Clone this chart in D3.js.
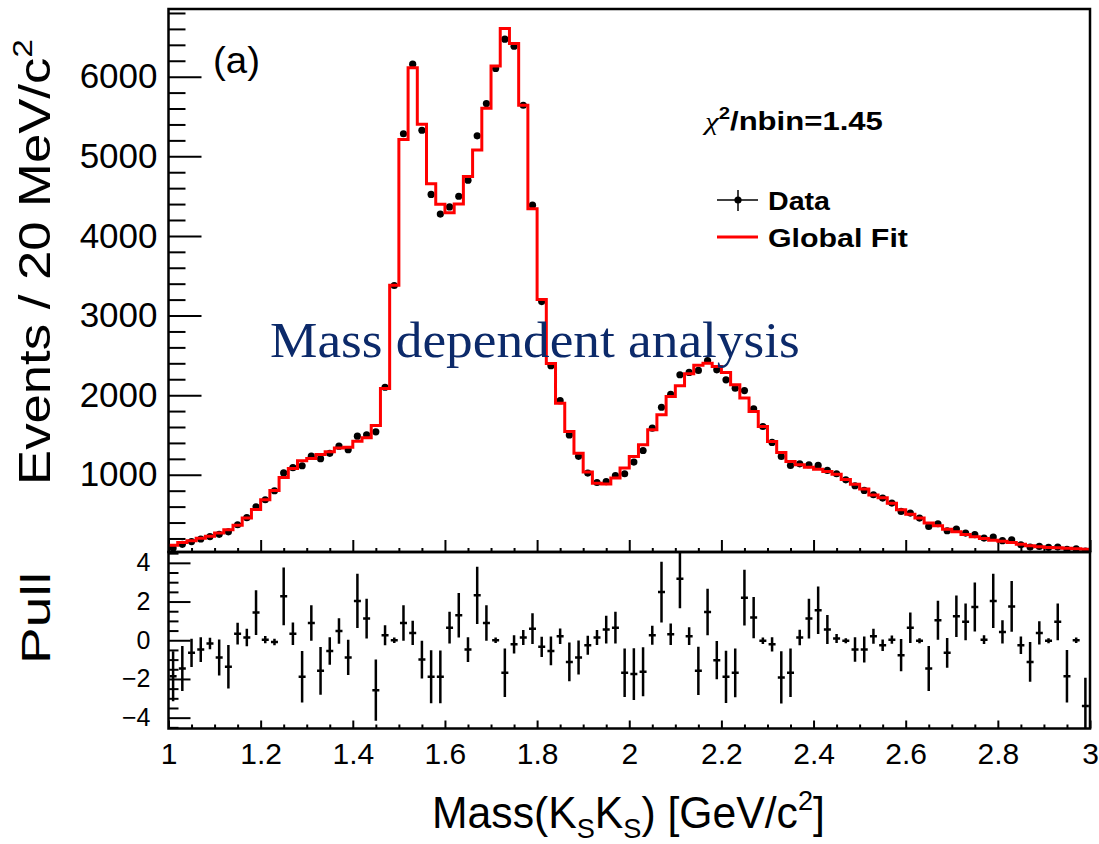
<!DOCTYPE html>
<html lang="en">
<head>
  <meta charset="utf-8">
  <title>Mass(KsKs) - mass dependent analysis</title>
  <script type="text/javascript" src="https://cdn.jsdelivr.net/npm/d3@7"></script>
</head>
<style>
body {
  margin: 0;
  background: #fff;
  font-family: "Liberation Sans", Arial, sans-serif;
}
.domain { display: none; }
</style>
<body>
<script type="text/javascript">
// bin centres, 20 MeV bins from 1 to 3 GeV
var massBins = [1.01,1.03,1.05,1.07,1.09,1.11,1.13,1.15,1.17,1.19,
  1.21,1.23,1.25,1.27,1.29,1.31,1.33,1.35,1.37,1.39,
  1.41,1.43,1.45,1.47,1.49,1.51,1.53,1.55,1.57,1.59,
  1.61,1.63,1.65,1.67,1.69,1.71,1.73,1.75,1.77,1.79,
  1.81,1.83,1.85,1.87,1.89,1.91,1.93,1.95,1.97,1.99,
  2.01,2.03,2.05,2.07,2.09,2.11,2.13,2.15,2.17,2.19,
  2.21,2.23,2.25,2.27,2.29,2.31,2.33,2.35,2.37,2.39,
  2.41,2.43,2.45,2.47,2.49,2.51,2.53,2.55,2.57,2.59,
  2.61,2.63,2.65,2.67,2.69,2.71,2.73,2.75,2.77,2.79,
  2.81,2.83,2.85,2.87,2.89,2.91,2.93,2.95,2.97,2.99];

var dataCounts = [80,126,161,193,224,252,283,372,461,598,
  686,799,1023,1089,1113,1234,1202,1269,1359,1314,
  1485,1502,1540,2099,3377,5283,6157,5327,4521,4274,
  4364,4498,4699,5257,5663,6103,6471,6382,5641,4386,
  3175,2369,1930,1500,1232,1021,903,915,991,1013,
  1159,1305,1585,1848,2011,2256,2285,2310,2435,2318,
  2193,2088,2058,1829,1606,1406,1230,1117,1138,1126,
  1117,1055,1013,937,862,803,749,707,644,539,
  519,456,351,385,297,318,268,247,205,218,
  172,184,121,92,100,87,92,62,70,42];

var fitCounts = [115,150,172,202,227,268,310,365,458,565,
  685,802,965,1080,1175,1205,1255,1288,1335,1345,
  1420,1465,1620,2085,3380,5212,6112,5404,4655,4399,
  4290,4400,4746,5080,5605,6135,6605,6417,5640,4341,
  3200,2399,1897,1545,1270,1035,895,885,958,1084,
  1230,1377,1565,1753,1984,2117,2270,2375,2400,2360,
  2285,2130,1963,1795,1605,1418,1280,1167,1126,1095,
  1070,1040,1008,940,880,820,745,712,642,560,
  505,458,395,360,315,285,250,220,198,178,
  165,148,126,110,97,88,82,76,70,65];

var pulls = [-1.86,-1.46,-0.65,-0.48,-0.17,-0.89,-1.37,0.34,0.14,1.43,
  0.03,-0.09,2.27,0.34,-1.89,0.89,-1.58,-0.55,0.48,-0.89,
  2.03,1.12,-2.58,0.26,0.0,0.89,0.38,-1.0,-1.89,-1.89,
  0.65,1.29,-0.48,2.32,0.89,0.0,-1.68,-0.21,0.14,0.60,
  -0.34,-0.55,0.21,-1.12,-0.89,-0.26,0.14,0.55,0.65,-1.68,
  -1.75,-1.63,0.26,2.49,0.31,3.18,0.21,-1.58,1.46,-1.03,
  -1.89,-1.68,2.20,1.17,-0.03,-0.21,-1.92,-1.68,0.14,1.12,
  1.55,0.55,0.09,-0.03,-0.48,-0.48,0.21,-0.26,0.03,-0.77,
  0.65,-0.03,-1.46,1.03,-0.65,1.24,0.95,1.72,0.03,2.03,
  0.43,1.75,-0.26,-1.12,0.38,-0.03,0.95,-1.86,0.0,-3.40];

var pullErrors = [1.29,1.16,0.73,0.64,0.30,0.93,1.12,0.56,0.45,1.16,
  0.19,0.17,1.49,0.58,1.33,0.92,1.23,0.71,0.66,0.91,
  1.40,1.03,1.58,0.52,0.14,0.92,0.63,0.97,1.37,1.36,
  0.82,1.15,0.64,1.48,0.92,0.14,1.25,0.47,0.39,0.79,
  0.52,0.74,0.40,1.00,0.88,0.49,0.39,0.72,0.82,1.25,
  1.34,1.27,0.49,1.57,0.56,1.53,0.46,1.25,1.20,0.99,
  1.35,1.26,1.44,1.07,0.17,0.37,1.35,1.25,0.40,1.03,
  1.23,0.75,0.23,0.13,0.63,0.67,0.39,0.30,0.21,0.83,
  0.79,0.13,1.16,1.01,0.77,1.07,0.95,1.27,0.23,1.40,
  0.60,1.31,0.45,1.03,0.60,0.13,0.95,1.36,0.14,1.46];

var countTicks = [1000, 2000, 3000, 4000, 5000, 6000];
var pullTicks = [-4, -2, 0, 2, 4];
var massTicks = [1, 1.2, 1.4, 1.6, 1.8, 2, 2.2, 2.4, 2.6, 2.8, 3];
var massTickLabels = ["1", "1.2", "1.4", "1.6", "1.8", "2", "2.2", "2.4", "2.6", "2.8", "3"];

var w = 1099, h = 844;
var left = 168.5, right = 1090;
var topY = 9, midY = 552, botY = 728.5;
var binWidth = 0.02;

var x = d3.scaleLinear().domain([1, 3]).range([left, right]);
var y = d3.scaleLinear().domain([30, 6850]).range([midY, topY]);
var yp = d3.scaleLinear().domain([-4.56, 4.56]).range([botY, midY]);

var svg = d3.select("body").append("svg")
  .attr("width", w)
  .attr("height", h);

svg.append("clipPath").attr("id", "clipTop")
  .append("rect").attr("x", left).attr("y", topY).attr("width", right - left).attr("height", midY - topY);
svg.append("clipPath").attr("id", "clipPull")
  .append("rect").attr("x", left).attr("y", midY).attr("width", right - left).attr("height", botY - midY);

function styleAxis(g, size) {
  g.attr("font-family", "'Liberation Sans', Arial, sans-serif").attr("font-size", size);
  g.selectAll(".tick line").attr("stroke", "#000").attr("stroke-width", 2);
  g.selectAll(".tick text").attr("fill", "#000");
}

// ---- upper panel axes
var minorCounts = d3.range(200, 6850, 200).filter(function(d) { return d % 1000 !== 0; });
svg.append("g").attr("transform", "translate(" + left + ",0)")
  .call(d3.axisLeft(y).tickValues(minorCounts).tickSize(-17).tickFormat(""))
  .call(styleAxis, 35);
svg.append("g").attr("transform", "translate(" + left + ",0)")
  .call(d3.axisLeft(y).tickValues(countTicks).tickSize(-33).tickPadding(11).tickFormat(d3.format("d")))
  .call(styleAxis, 35);

var minorMass = d3.range(1.05, 3, 0.05).filter(function(d) { return Math.abs(d * 5 - Math.round(d * 5)) > 1e-6; });
svg.append("g").attr("transform", "translate(0," + midY + ")")
  .call(d3.axisBottom(x).tickValues(minorMass).tickSize(-4).tickFormat(""))
  .call(styleAxis, 30);
svg.append("g").attr("transform", "translate(0," + midY + ")")
  .call(d3.axisBottom(x).tickValues(massTicks).tickSize(-12).tickFormat(""))
  .call(styleAxis, 30);

// ---- lower panel axes
var minorPull = d3.range(-4.5, 4.6, 0.5).filter(function(d) { return d % 2 !== 0; });
svg.append("g").attr("transform", "translate(" + left + ",0)")
  .call(d3.axisLeft(yp).tickValues(minorPull).tickSize(-10).tickFormat(""))
  .call(styleAxis, 25);
svg.append("g").attr("transform", "translate(" + left + ",0)")
  .call(d3.axisLeft(yp).tickValues(pullTicks).tickSize(-22).tickPadding(18))
  .call(styleAxis, 25);

svg.append("g").attr("transform", "translate(0," + botY + ")")
  .call(d3.axisBottom(x).tickValues(minorMass).tickSize(-4).tickFormat(""))
  .call(styleAxis, 30);
svg.append("g").attr("transform", "translate(0," + botY + ")")
  .call(d3.axisBottom(x).tickValues(massTicks).tickSize(-8).tickPadding(14)
    .tickFormat(function(d, i) { return massTickLabels[i]; }))
  .call(styleAxis, 30);

// ---- data points
svg.append("g").attr("clip-path", "url(#clipTop)")
  .selectAll("circle")
  .data(dataCounts)
  .enter()
  .append("circle")
  .attr("cx", function(d, i) { return x(massBins[i]); })
  .attr("cy", function(d) { return y(d); })
  .attr("r", 3.6)
  .attr("fill", "#000");

// ---- fit histogram (red steps)
var steps = fitCounts.map(function(d, i) { return [massBins[i] - binWidth / 2, d]; });
steps.push([massBins[massBins.length - 1] + binWidth / 2, fitCounts[fitCounts.length - 1]]);
var stepLine = d3.line()
  .x(function(d) { return x(d[0]); })
  .y(function(d) { return y(d[1]); })
  .curve(d3.curveStepAfter);
svg.append("path")
  .attr("clip-path", "url(#clipTop)")
  .attr("d", stepLine(steps))
  .attr("fill", "none")
  .attr("stroke", "#ff0000")
  .attr("stroke-width", 3);

// ---- pulls
var pullG = svg.append("g").attr("clip-path", "url(#clipPull)");
pullG.selectAll("line.err")
  .data(pulls)
  .enter()
  .append("line")
  .attr("class", "err")
  .attr("x1", function(d, i) { return x(massBins[i]); })
  .attr("x2", function(d, i) { return x(massBins[i]); })
  .attr("y1", function(d, i) { return yp(d - pullErrors[i]); })
  .attr("y2", function(d, i) { return yp(d + pullErrors[i]); })
  .attr("stroke", "#000")
  .attr("stroke-width", 2.5);
pullG.selectAll("line.bin")
  .data(pulls)
  .enter()
  .append("line")
  .attr("class", "bin")
  .attr("x1", function(d, i) { return x(massBins[i]) - 3.5; })
  .attr("x2", function(d, i) { return x(massBins[i]) + 3.5; })
  .attr("y1", function(d) { return yp(d); })
  .attr("y2", function(d) { return yp(d); })
  .attr("stroke", "#000")
  .attr("stroke-width", 2.5);

// ---- frames
svg.append("rect")
  .attr("x", left).attr("y", topY).attr("width", right - left).attr("height", midY - topY)
  .attr("fill", "none").attr("stroke", "#000").attr("stroke-width", 2.5);
svg.append("rect")
  .attr("x", left).attr("y", midY).attr("width", right - left).attr("height", botY - midY)
  .attr("fill", "none").attr("stroke", "#000").attr("stroke-width", 2.5);

// stretch a text horizontally (in its own frame) to a given length
function fitText(t, len, tx, ty, rot) {
  var cur = t.node().getComputedTextLength();
  t.attr("transform", "translate(" + tx + "," + ty + ")" + (rot ? " rotate(" + rot + ")" : "") +
    " scale(" + (len / cur) + ",1)");
}

// ---- axis titles
var yTitle = svg.append("text")
  .attr("text-anchor", "middle")
  .attr("font-size", 44)
  .attr("fill", "#000");
yTitle.append("tspan").text("Events / 20 MeV/c");
yTitle.append("tspan").attr("font-size", 28).attr("dy", -18).text("2");
fitText(yTitle, 446, 50, 262, -90);

var pullTitle = svg.append("text")
  .attr("text-anchor", "middle")
  .attr("font-size", 40)
  .attr("fill", "#000")
  .text("Pull");
fitText(pullTitle, 92, 50, 618, -90);

var xTitle = svg.append("text")
  .attr("font-size", 44)
  .attr("fill", "#000");
xTitle.append("tspan").text("Mass(K");
xTitle.append("tspan").attr("font-size", 28).attr("dy", 10).text("S");
xTitle.append("tspan").attr("dy", -10).text("K");
xTitle.append("tspan").attr("font-size", 28).attr("dy", 10).text("S");
xTitle.append("tspan").attr("dy", -10).text(") [GeV/c");
xTitle.append("tspan").attr("font-size", 28).attr("dy", -18).text("2");
xTitle.append("tspan").attr("dy", 18).text("]");
fitText(xTitle, 393, 432, 828);

// ---- annotations
var tag = svg.append("text")
  .attr("font-size", 36)
  .attr("fill", "#000")
  .text("(a)");
fitText(tag, 47, 213, 73);

var chi = svg.append("text")
  .attr("font-size", 26)
  .attr("font-weight", "bold")
  .attr("fill", "#000");
chi.append("tspan").attr("font-family", "'Liberation Serif', serif").attr("font-style", "italic").attr("font-weight", "normal").text("\u03c7");
chi.append("tspan").attr("font-size", 17).attr("dy", -11).text("2");
chi.append("tspan").attr("dy", 11).text("/nbin=1.45");
fitText(chi, 178, 705, 130);

var note = svg.append("text")
  .attr("font-family", "'Liberation Serif', 'Times New Roman', serif")
  .attr("font-size", 50)
  .attr("fill", "#0c2a6a")
  .text("Mass dependent analysis");
fitText(note, 530, 270, 357);

// ---- legend
var legend = svg.append("g");
legend.append("line").attr("x1", 717).attr("x2", 758).attr("y1", 200).attr("y2", 200)
  .attr("stroke", "#000").attr("stroke-width", 1.5);
legend.append("line").attr("x1", 738).attr("x2", 738).attr("y1", 190).attr("y2", 211)
  .attr("stroke", "#000").attr("stroke-width", 1.5);
legend.append("circle").attr("cx", 738).attr("cy", 200).attr("r", 3.6).attr("fill", "#000");
legend.append("line").attr("x1", 717).attr("x2", 758).attr("y1", 237).attr("y2", 237)
  .attr("stroke", "#ff0000").attr("stroke-width", 3);
var l1 = legend.append("text").attr("font-size", 26).attr("font-weight", "bold").text("Data");
fitText(l1, 62, 768, 210);
var l2 = legend.append("text").attr("font-size", 26).attr("font-weight", "bold").text("Global Fit");
fitText(l2, 140, 768, 247);
</script>
</body>
</html>
